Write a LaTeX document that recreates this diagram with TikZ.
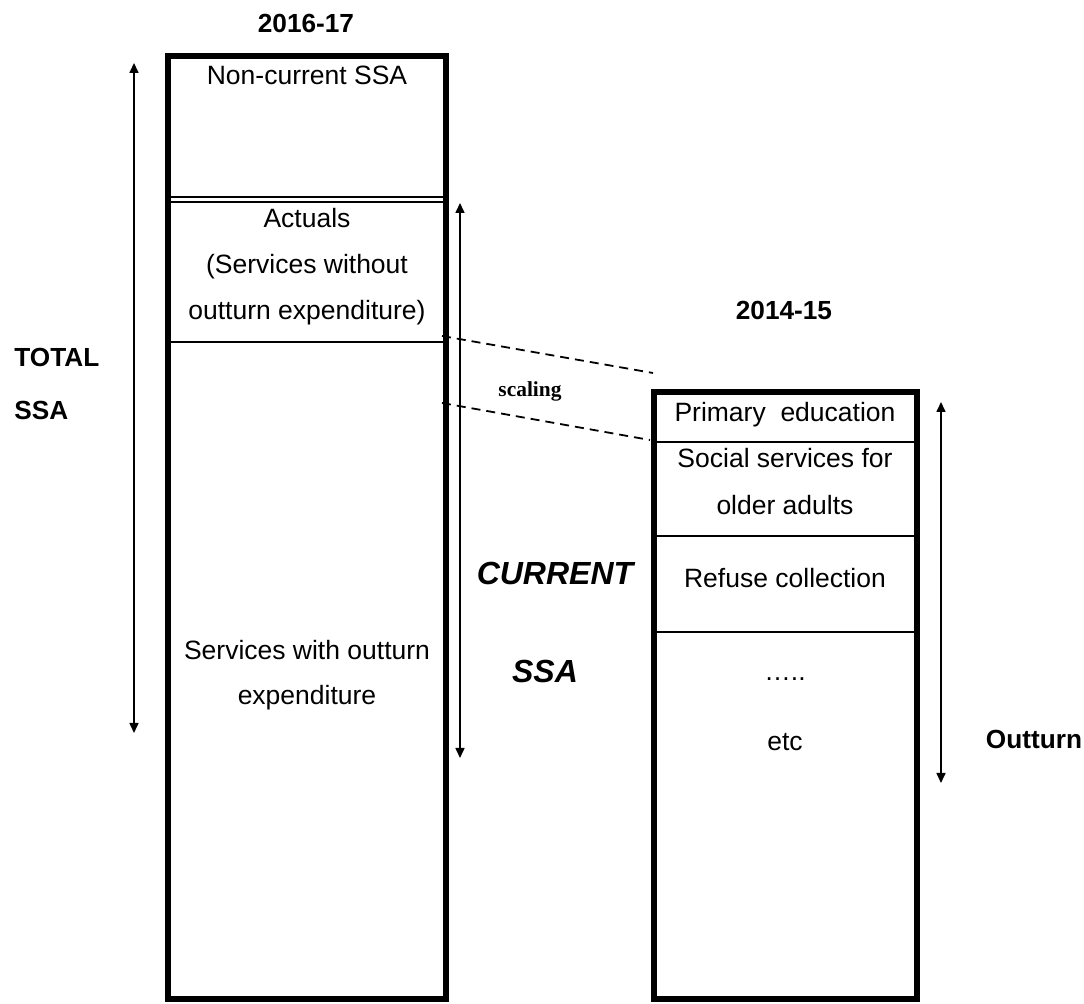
\documentclass[tikz,border=0pt]{standalone}
\usepackage{fontspec}
\setmainfont{Liberation Sans}
\newfontfamily\scalingfont{Liberation Serif}
\usetikzlibrary{arrows.meta}

\begin{document}
\begin{tikzpicture}[x=0.5pt, y=-0.5pt, >={Triangle[length=5pt,width=4.5pt]}]
  \tikzstyle{column}=[draw=black,line width=3pt]
  \tikzstyle{divider}=[draw=black,line width=1pt]
  \tikzstyle{txt}=[anchor=base,inner sep=0pt,font=\fontsize{13.25}{16}\selectfont]
  \tikzstyle{head}=[anchor=base,inner sep=0pt,font=\fontsize{13.1}{16}\selectfont\bfseries]
  \tikzstyle{big}=[anchor=base,inner sep=0pt,font=\fontsize{16}{19}\selectfont\bfseries\itshape]
  \tikzstyle{span}=[<->,line width=0.8pt]
  \tikzstyle{scaleline}=[draw=black,line width=0.9pt,dash pattern=on 4.5pt off 3pt]

  \useasboundingbox (0,0) rectangle (1084,1004);

  % the two columns
  \draw[column] (168,56) rectangle (445.5,999);
  \draw[column] (653.5,392) rectangle (916.5,999);

  \draw[line width=0.8pt] (168,197) -- (445.5,197) (168,202) -- (445.5,202);
  \draw[divider] (168,342) -- (445.5,342);
  \draw[divider] (653.5,442) -- (916.5,442);
  \draw[divider] (653.5,536) -- (916.5,536);
  \draw[divider] (653.5,632) -- (916.5,632);

  \node[head] (yr-new) at (306,33) {2016-17};
  \node[head] (yr-old) at (784,320) {2014-15};

  \node[txt] (noncur) at (307,85) {Non-current SSA};
  \node[txt] (act1) at (307,228) {Actuals};
  \node[txt] (act2) at (307,274) {(Services without};
  \node[txt] (act3) at (307,320) {outturn expenditure)};
  \node[txt] (with1) at (307,660) {Services with outturn};
  \node[txt] (with2) at (307,705) {expenditure};

  \node[txt] (prim) at (785,422) {Primary\ \ education};
  \node[txt] (soc1) at (785,468) {Social services for};
  \node[txt] (soc2) at (785,515) {older adults};
  \node[txt] (refuse) at (785,588) {Refuse collection};
  \node[txt] (dots) at (785,681) {…..};
  \node[txt] (etc) at (785,751) {etc};

  \node[head,anchor=base west] (total1) at (14,367) {TOTAL};
  \node[head,anchor=base west] (total2) at (14,420) {SSA};
  \node[big] (cur1) at (555,585) {CURRENT};
  \node[big] (cur2) at (545,683) {SSA};
  \node[head] (outturn) at (1034,749) {Outturn};
  \node[anchor=base,inner sep=0pt,font=\scalingfont\bfseries\fontsize{10.7}{13}\selectfont] (scaling) at (530,397) {scaling};

  % arrows
  \coordinate (tot-top) at (134,63);
  \coordinate (tot-bot) at (134,733);
  \coordinate (cur-top) at (460,203);
  \coordinate (cur-bot) at (460,758);
  \coordinate (out-top) at (941,402);
  \coordinate (out-bot) at (941,783);
  \draw[span] (tot-top) -- (tot-bot);
  \draw[span] (cur-top) -- (cur-bot);
  \draw[span] (out-top) -- (out-bot);

  \coordinate (sc-a) at (442,336);
  \coordinate (sc-b) at (653,373);
  \coordinate (sc-c) at (442,403);
  \coordinate (sc-d) at (650,440);
  \path (sc-a) edge[scaleline] (sc-b)
        (sc-c) edge[scaleline] (sc-d);

\end{tikzpicture}
\end{document}
